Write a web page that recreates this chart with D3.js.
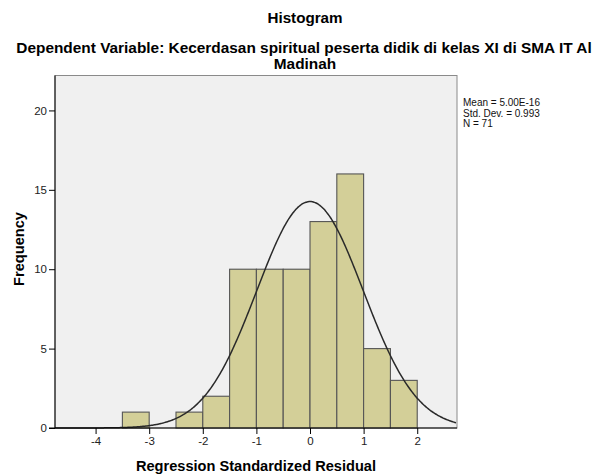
<!DOCTYPE html>
<html><head><meta charset="utf-8">
<script src="https://cdn.jsdelivr.net/npm/d3@7"></script>
<style>body{margin:0;background:#fff;font-family:"Liberation Sans",Arial,sans-serif;}</style>
</head><body><svg id="c" width="597" height="475"></svg>
<script>
const binStarts = [-3.5, -2.5, -2.0, -1.5, -1.0, -0.5, 0.0, 0.5, 1.0, 1.5];
const binWidth = 0.5;
const counts = [1, 1, 2, 10, 10, 10, 13, 16, 5, 3];
const xTicks = [-4, -3, -2, -1, 0, 1, 2];
const yTicks = [0, 5, 10, 15, 20];
const stats = {mean: 5.00e-16, sd: 0.993, n: 71};
const statLabels = ["Mean = 5.00E-16", "Std. Dev. = 0.993", "N = 71"];

const svg = d3.select("#c");
const L = 55, R = 457, T = 75.5, B = 428;
const x = d3.scaleLinear().domain([-4.757, 2.742]).range([L, R]);
const y = d3.scaleLinear().domain([0, 22.2]).range([B, T]);

svg.append("rect").attr("x", L).attr("y", T).attr("width", R - L).attr("height", B - T)
  .attr("fill", "#f0f0f0").attr("stroke", "#8a8a8a").attr("stroke-width", 1);

svg.append("g").selectAll("rect").data(counts).join("rect")
  .attr("x", (d, i) => x(binStarts[i]))
  .attr("width", (d, i) => x(binStarts[i] + binWidth) - x(binStarts[i]))
  .attr("y", d => y(d))
  .attr("height", d => y(0) - y(d))
  .attr("fill", "#d3cf98").attr("stroke", "#555").attr("stroke-width", 1.1);

// normal curve
const pdf = v => stats.n * binWidth / (stats.sd * Math.sqrt(2 * Math.PI)) * Math.exp(-0.5 * ((v - stats.mean) / stats.sd) ** 2);
const xs = d3.range(x.domain()[0], x.domain()[1] + 0.001, 0.02);
svg.append("path").datum(xs)
  .attr("d", d3.line().x(v => x(v)).y(v => y(pdf(v))).curve(d3.curveBasis))
  .attr("fill", "none").attr("stroke", "#2a2a2a").attr("stroke-width", 1.5);

// axes
const fmt = d => String(d);
const xa = svg.append("g").attr("transform", `translate(0,${B})`)
  .call(d3.axisBottom(x).tickValues(xTicks).tickSize(6).tickPadding(3).tickFormat(fmt));
const ya = svg.append("g").attr("transform", `translate(${L},0)`)
  .call(d3.axisLeft(y).tickValues(yTicks).tickSize(6).tickPadding(2).tickFormat(fmt));
[xa, ya].forEach(a => {
  a.select(".domain").remove();
  a.selectAll("line").attr("stroke", "#000");
  a.selectAll("text").attr("font-family", "Liberation Sans, Arial, sans-serif").attr("font-size", 11.5).attr("fill", "#222");
});
svg.append("line").attr("x1", L).attr("x2", L).attr("y1", T).attr("y2", B).attr("stroke", "#000");
svg.append("line").attr("x1", L - 6).attr("x2", R).attr("y1", B).attr("y2", B).attr("stroke", "#000");

// titles
svg.append("text").attr("x", 305).attr("y", 23).attr("text-anchor", "middle")
  .attr("font-size", 15.2).attr("font-weight", "bold").text("Histogram");
svg.append("text").attr("x", 304).attr("y", 52.5).attr("text-anchor", "middle")
  .attr("font-size", 15.4).attr("font-weight", "bold").text("Dependent Variable: Kecerdasan spiritual peserta didik di kelas XI di SMA IT Al");
svg.append("text").attr("x", 305).attr("y", 69).attr("text-anchor", "middle")
  .attr("font-size", 15.4).attr("font-weight", "bold").text("Madinah");

svg.append("text").attr("x", 256).attr("y", 471).attr("text-anchor", "middle")
  .attr("font-size", 14.6).attr("font-weight", "bold").text("Regression Standardized Residual");
svg.append("text").attr("transform", "translate(24,249) rotate(-90)").attr("text-anchor", "middle")
  .attr("font-size", 14.6).attr("font-weight", "bold").text("Frequency");

svg.append("g").selectAll("text").data(statLabels).join("text")
  .attr("x", 463).attr("y", (d, i) => 106 + i * 10.5)
  .attr("font-size", 10).attr("fill", "#111").text(d => d);
</script></body></html>
